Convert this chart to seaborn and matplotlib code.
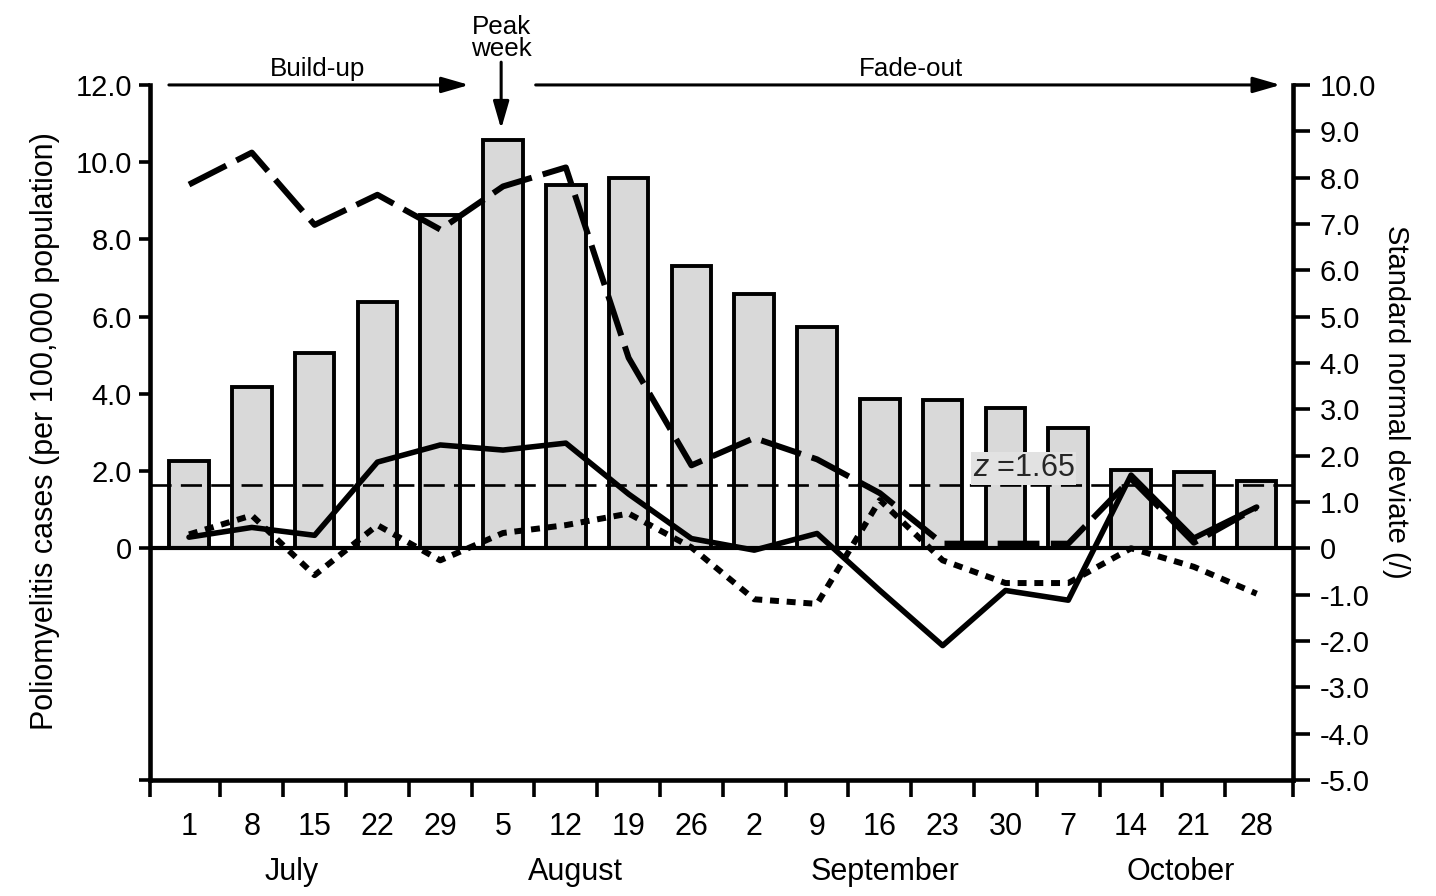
import numpy as np
import pandas as pd
import matplotlib
matplotlib.use('Agg')
import matplotlib.pyplot as plt
import matplotlib.transforms as mtransforms
import seaborn as sns

# Weekly polio data, July - October
week_days = ['1', '8', '15', '22', '29', '5', '12', '19', '26',
             '2', '9', '16', '23', '30', '7', '14', '21', '28']
cases = [2.25, 4.18, 5.05, 6.39, 8.63, 10.57, 9.40, 9.58, 7.32,
         6.58, 5.72, 3.86, 3.85, 3.63, 3.11, 2.02, 1.97, 1.73]
z_dashed = [7.85, 8.54, 6.98, 7.63, 6.88, 7.81, 8.22, 4.11, 1.79,
            2.38, 1.92, 1.19, 0.10, 0.10, 0.10, 1.50, 0.12, 0.88]
z_solid = [0.24, 0.45, 0.28, 1.86, 2.23, 2.12, 2.27, 1.17, 0.21,
           -0.04, 0.32, -0.91, -2.10, -0.91, -1.12, 1.58, 0.22, 0.89]
z_dotted = [0.30, 0.71, -0.58, 0.50, -0.26, 0.33, 0.50, 0.75, 0.02,
            -1.10, -1.20, 1.04, -0.26, -0.75, -0.75, 0.00, -0.40, -0.98]
months = ['July', 'August', 'September', 'October']
z_crit = 1.65

left_ticks = [0, 2, 4, 6, 8, 10, 12]
right_ticks = list(range(-5, 11))

sns.set_theme(style='ticks')
plt.rcParams['font.family'] = ['Liberation Sans', 'DejaVu Sans']
plt.rcParams['mathtext.fontset'] = 'custom'
plt.rcParams['mathtext.it'] = 'Liberation Sans:italic'
plt.rcParams['mathtext.rm'] = 'Liberation Sans'

fig = plt.figure(figsize=(14.36, 8.96), dpi=100)
ax = fig.add_axes([0.1045, 0.1295, 0.7960, 0.7757])

df = pd.DataFrame({'week': week_days, 'cases': cases})
sns.barplot(data=df, x='week', y='cases', order=week_days, ax=ax,
            color='#d9d9d9', saturation=1, edgecolor='black',
            linewidth=2.8, width=0.63, errorbar=None, zorder=2)

# zero line and z = 1.65 reference line
ax.axhline(0, color='black', lw=3, zorder=3)
ax.axhline(z_crit, color='black', lw=1.9, dashes=(8, 3.5), zorder=3)
ax.text(12.48, 1.86, r'$z$ =1.65', ha='left', va='baseline', fontsize=22,
        zorder=6, bbox=dict(facecolor='#e2e2e2', edgecolor='none', pad=1))

# standard normal deviate lines on right axis
ax2 = ax.twinx()
x = np.arange(len(week_days))
sns.lineplot(x=x, y=z_dashed, ax=ax2, color='black', linewidth=4.3, sort=False)
ax2.lines[-1].set_dashes([7, 1.9])
ax2.lines[-1].set_dash_capstyle('butt')
sns.lineplot(x=x, y=z_dotted, ax=ax2, color='black', linewidth=4.3, sort=False)
ax2.lines[-1].set_dashes([1.5, 1.3])
ax2.lines[-1].set_dash_capstyle('butt')
sns.lineplot(x=x, y=z_solid, ax=ax2, color='black', linewidth=4.0, sort=False)

# axes limits / ticks
xmin, xmax = -0.62, 17.58
ax.set_xlim(xmin, xmax)
ax.set_ylim(-6, 12)
ax2.set_ylim(-5, 10)

ax.set_xticks(x)
ax.set_xticklabels(week_days)
ax.set_xticks([xmin] + list(np.arange(0.5, 17)) + [xmax], minor=True)
ax.tick_params(axis='x', which='major', length=0, pad=23, labelsize=22,
               colors='black')
ax.tick_params(axis='x', which='minor', length=12, width=2.6,
               direction='out', color='black')

ax.set_yticks([-6] + left_ticks)
ax.set_yticklabels([''] + ['0' if v == 0 else f'{v:.1f}' for v in left_ticks])
ax.tick_params(axis='y', length=8, width=2.6, direction='out', pad=5,
               labelsize=21, colors='black')

ax2.set_yticks(right_ticks)
ax2.set_yticklabels(['0' if v == 0 else f'{v:.1f}' for v in right_ticks])
ax2.tick_params(axis='y', length=12, width=2.6, direction='out', pad=7,
                labelsize=21, colors='black')

for s in ['top', 'right']:
    ax.spines[s].set_visible(False)
for s in ['top', 'left', 'bottom']:
    ax2.spines[s].set_visible(False)
for s in ['left', 'bottom']:
    ax.spines[s].set_linewidth(3.3)
    ax.spines[s].set_color('black')
ax2.spines['right'].set_linewidth(3.3)
ax2.spines['right'].set_color('black')

ax.set_xlabel('')
ax.set_ylabel('Poliomyelitis cases (per 100,000 population)', fontsize=22,
              color='black')
ax.yaxis.label.set_va('center')
ax.yaxis.set_label_coords(-0.092, 0.502)
ax2.set_ylabel('Standard normal deviate (/)', fontsize=21, color='black',
               rotation=270)
ax2.yaxis.label.set_va('center')
ax2.yaxis.set_label_coords(1.090, 0.544)

# month labels under the day numbers
trans = mtransforms.blended_transform_factory(ax.transData, ax.transAxes)
month_x = [1.64, 6.15, 11.09, 15.79]
for name, mx in zip(months, month_x):
    ax.text(mx, -0.144, name, transform=trans, ha='center', va='baseline',
            fontsize=22, color='black')

# phase arrows above the plot
head = '-|>,head_length=0.83,head_width=0.24'
aprops = dict(arrowstyle=head, color='black', lw=2.2, mutation_scale=20,
              shrinkA=0, shrinkB=0)
ax.annotate('', xy=(4.46, 12.0), xytext=(-0.32, 12.0), arrowprops=aprops,
            annotation_clip=False)
ax.annotate('', xy=(17.38, 12.0), xytext=(5.52, 12.0), arrowprops=aprops,
            annotation_clip=False)
ax.annotate('', xy=(4.97, 10.86), xytext=(4.97, 12.59), arrowprops=aprops,
            annotation_clip=False)
ax.text(2.04, 12.24, 'Build-up', ha='center', va='baseline', fontsize=18.7,
        color='black', clip_on=False)
ax.text(11.49, 12.23, 'Fade-out', ha='center', va='baseline', fontsize=18.7,
        color='black', clip_on=False)
ax.text(4.97, 13.33, 'Peak', ha='center', va='baseline', fontsize=18.7,
        color='black', clip_on=False)
ax.text(4.97, 12.76, 'week', ha='center', va='baseline', fontsize=18.7,
        color='black', clip_on=False)

fig.savefig('out.png', dpi=100, facecolor='white')
